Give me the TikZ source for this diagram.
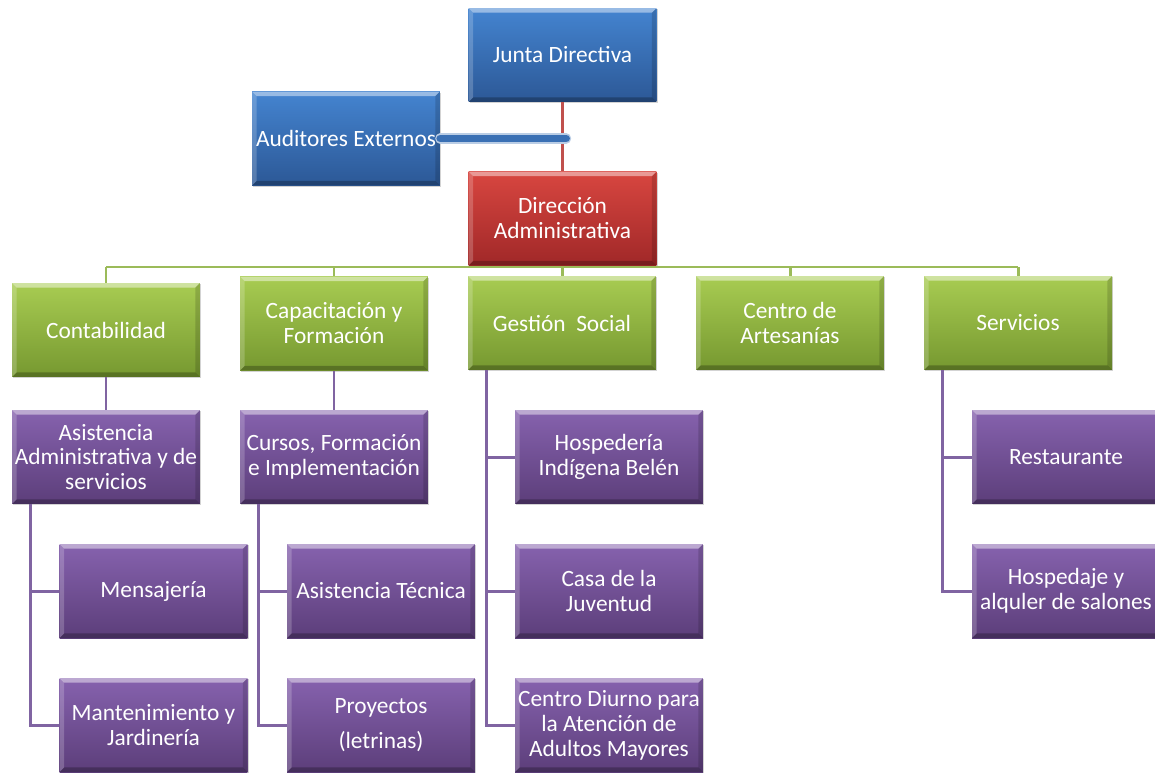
\documentclass[tikz,border=0pt]{standalone}
\usepackage{fontspec}
\setmainfont{Carlito}
\usetikzlibrary{shadows}
\definecolor{bluetop}{RGB}{68,132,208}
\definecolor{bluebot}{RGB}{44,88,150}
\definecolor{redtop}{RGB}{216,70,64}
\definecolor{redbot}{RGB}{160,40,40}
\definecolor{greentop}{RGB}{168,204,82}
\definecolor{greenbot}{RGB}{118,152,48}
\definecolor{purpletop}{RGB}{134,98,174}
\definecolor{purplebot}{RGB}{92,62,122}
\definecolor{redline}{RGB}{192,80,77}
\definecolor{greenline}{RGB}{155,187,89}
\definecolor{purpleline}{RGB}{128,100,162}
\definecolor{blueline}{RGB}{58,112,180}
\tikzset{bevel/.style={path picture={
  \fill[white,opacity=.45] (path picture bounding box.north west) -- (path picture bounding box.north east)
    -- ([xshift=-2.6pt,yshift=-2.6pt]path picture bounding box.north east) -- ([xshift=2.6pt,yshift=-2.6pt]path picture bounding box.north west) -- cycle;
  \fill[white,opacity=.2] (path picture bounding box.north west) -- (path picture bounding box.south west)
    -- ([xshift=2.6pt,yshift=2.6pt]path picture bounding box.south west) -- ([xshift=2.6pt,yshift=-2.6pt]path picture bounding box.north west) -- cycle;
  \fill[black,opacity=.15] (path picture bounding box.north east) -- (path picture bounding box.south east)
    -- ([xshift=-2.6pt,yshift=2.6pt]path picture bounding box.south east) -- ([xshift=-2.6pt,yshift=-2.6pt]path picture bounding box.north east) -- cycle;
  \fill[black,opacity=.25] (path picture bounding box.south west) -- (path picture bounding box.south east)
    -- ([xshift=-2.6pt,yshift=2.6pt]path picture bounding box.south east) -- ([xshift=2.6pt,yshift=2.6pt]path picture bounding box.south west) -- cycle;
}}}
\tikzstyle{box}=[rectangle,minimum width=3.76cm,minimum height=1.88cm,inner sep=0pt,align=center,text=white,
  font=\fontsize{13.3}{14.2}\selectfont,drop shadow={shadow xshift=.8pt,shadow yshift=-.8pt,opacity=.35},bevel]
\tikzstyle{bluebox}=[box,top color=bluetop,bottom color=bluebot]
\tikzstyle{redbox}=[box,top color=redtop,bottom color=redbot]
\tikzstyle{greenbox}=[box,top color=greentop,bottom color=greenbot]
\tikzstyle{purplebox}=[box,top color=purpletop,bottom color=purplebot]
\tikzstyle{edge} = [draw,line width=1.7pt,-]

\begin{document}
\begin{tikzpicture}[x=0.02cm,y=-0.02cm]
      \tikzset{busedge/.style = {edge,greenline},
               subedge/.style = {edge,purpleline}}
      \useasboundingbox (0,0) rectangle (1155,774);
      % top
      \node[bluebox] (junta) at (562.5,55) {Junta Directiva};
      \node[bluebox] (audit) at (346,138.5) {Auditores Externos};
      \node[redbox] (direc) at (562.5,218.5) {Dirección\\Administrativa};
      % areas
      \node[greenbox] (conta) at (106,330) {Contabilidad};
      \node[greenbox] (capac) at (334,323.5) {Capacitación y\\Formación};
      \node[greenbox] (gestion) at (562,323) {Gestión \ Social};
      \node[greenbox] (centro) at (790,323) {Centro de\\Artesanías};
      \node[greenbox] (servicios) at (1018,323) {Servicios};
      % units
      \node[purplebox] (asist) at (106,457) {Asistencia\\Administrativa y de\\servicios};
      \node[purplebox] (cursos) at (334,457) {Cursos, Formación\\e Implementación};
      \node[purplebox] (hosped) at (609,457) {Hospedería\\Indígena Belén};
      \node[purplebox] (restaur) at (1066,457) {Restaurante};
      \node[purplebox] (mensaj) at (153.5,591) {Mensajería};
      \node[purplebox] (manten) at (153.5,725) {Mantenimiento y\\Jardinería};
      \node[purplebox] (asistec) at (381,591) {Asistencia Técnica};
      \node[purplebox] (proyect) at (381,725) {Proyectos\\[6pt](letrinas)};
      \node[purplebox] (casa) at (609,591) {Casa de la\\Juventud};
      \node[purplebox] (diurno) at (609,725) {Centro Diurno para\\la Atención de\\Adultos Mayores};
      \node[purplebox] (hospedaje) at (1066,591) {Hospedaje y\\alquler de salones};
      % connectors
      \draw[edge,redline] (junta) -- (direc);
      \coordinate (auditjoin) at ([xshift=2pt]junta.south |- audit.east);
      \draw[draw=blueline!35!white,double=blueline,double distance=4.5pt,line width=.7pt,line cap=round] (audit.east) -- (auditjoin);
      \coordinate (bus) at (562,267);
      \draw[busedge] (conta.north |- bus) -- (servicios.north |- bus);
      \draw[busedge] (direc) -- (direc.south |- bus);
      \foreach \n in {conta,capac,gestion,centro,servicios}
        \draw[busedge] (\n.north) -- (\n.north |- bus);
      \draw[subedge] (conta) -- (asist);
      \draw[subedge] (capac) -- (cursos);
      \foreach \p/\c in {asist/mensaj,asist/manten,cursos/asistec,cursos/proyect,
                         gestion/hosped,gestion/casa,gestion/diurno,servicios/restaur,servicios/hospedaje}
        \draw[subedge] ([xshift=0.38cm]\p.south west) |- (\c.west);
\end{tikzpicture}
\end{document}
